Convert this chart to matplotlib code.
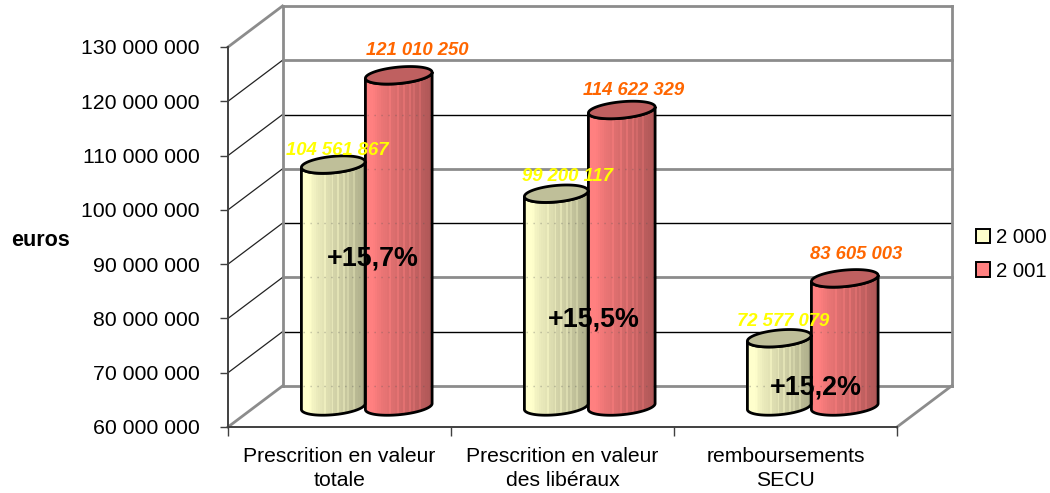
import numpy as np
import matplotlib
matplotlib.use("Agg")
import matplotlib.pyplot as plt
from matplotlib.patches import Patch, Polygon
from matplotlib.colors import LinearSegmentedColormap

plt.rcParams['font.family'] = ['Liberation Sans', 'DejaVu Sans']

categories = ["Prescrition en valeur\ntotale", "Prescrition en valeur\ndes libéraux", "remboursements\nSECU"]
series_names = ["2 000", "2 001"]
values_2000 = [104561867, 99200117, 72577079]
values_2001 = [121010250, 114622329, 83605003]
labels_2000 = ["104 561 867", "99 200 117", "72 577 079"]
labels_2001 = ["121 010 250", "114 622 329", "83 605 003"]
growth = ["+15,7%", "+15,5%", "+15,2%"]
y_ticks = [60000000, 70000000, 80000000, 90000000, 100000000, 110000000, 120000000, 130000000]
y_labels = ["60 000 000", "70 000 000", "80 000 000", "90 000 000", "100 000 000",
            "110 000 000", "120 000 000", "130 000 000"]
# shade across the cylinder, left to right, with the light streaks of the original
shade = [0.96, 1.0, 1.0, 1.0, 0.99, 0.97, 0.95, 0.94, 0.92, 0.91, 0.90, 0.89, 0.93, 0.87, 0.86, 0.85, 0.90,
         0.83, 0.82, 0.89, 0.81, 0.80, 0.86, 0.78, 0.83, 0.76, 0.75, 0.81, 0.73, 0.72, 0.71, 0.70, 0.68, 0.66]

W, H = 1050, 493
fig = plt.figure(figsize=(W / 100, H / 100), dpi=100)
ax = fig.add_axes([228 / W, (H - 427) / H, 669 / W, 380 / H])
ax.set_xlim(0, 3)
ax.set_ylim(60000000, 130000000)

# data units for one pixel
px_x = 3 / 669
px_y = 70000000 / 380
depth_x = 54.5 * px_x
depth_y = 41 * px_y

GREY = "#8c8c8c"
DARK = "#404040"

# back wall and side wall grid, alternating like the original
for i, v in enumerate(y_ticks):
    thick = i % 2 == 0 or i == 7
    col = GREY if thick else "black"
    lw = 2 if thick else 1
    ax.plot([depth_x, 3 + depth_x], [v + depth_y] * 2, color=col, lw=lw, clip_on=False, zorder=1)
    c2 = GREY if i in (0, 7) else "#222222"
    ax.plot([0, depth_x], [v, v + depth_y], color=c2, lw=2 if i in (0, 7) else 0.9, clip_on=False, zorder=1)
ax.plot([depth_x, depth_x], [60000000 + depth_y, 130000000 + depth_y], color=GREY, lw=2, clip_on=False, zorder=1)
ax.plot([3 + depth_x, 3 + depth_x], [60000000 + depth_y, 130000000 + depth_y], color=GREY, lw=2, clip_on=False, zorder=1)
ax.plot([3, 3 + depth_x], [60000000, 60000000 + depth_y], color=GREY, lw=2, clip_on=False, zorder=1)


def ellipse_pts(cx, cy, t, a):
    # tilted ellipse seen from above
    b, tilt = 8.2, np.radians(-5.5)
    ex = a * np.cos(t) * np.cos(tilt) - b * np.sin(t) * np.sin(tilt)
    ey = a * np.cos(t) * np.sin(tilt) + b * np.sin(t) * np.cos(tilt)
    return cx + ex * px_x, cy - ey * px_y


def cylinder(cx, value, a, base_col, top_col):
    cy_top = value + depth_y / 2
    cy_bot = 60000000 + depth_y / 2
    t = np.linspace(0, np.pi, 60)
    bx, by = ellipse_pts(cx, cy_bot, t, a)
    tx, ty = ellipse_pts(cx, cy_top, np.pi - t, a)
    body = Polygon(np.column_stack([np.r_[bx, tx], np.r_[by, ty]]), closed=True, fc="none",
                   ec="black", lw=2, zorder=3)
    ax.add_patch(body)
    cmap = LinearSegmentedColormap.from_list("c", ["black", base_col])
    im = ax.imshow(np.array([shade]), cmap=cmap, vmin=0, vmax=1, aspect="auto",
                   extent=[cx - (a + 0.5) * px_x, cx + (a + 0.5) * px_x, 60000000, value + depth_y],
                   interpolation="nearest", zorder=2.5)
    im.set_clip_path(body)
    # grid shows faintly through the bar
    for v in y_ticks:
        if v + depth_y < cy_top - 10 * px_y:
            ax.plot([cx - (a - 1.5) * px_x, cx + (a - 1.5) * px_x], [v + depth_y] * 2, color="#555555", lw=1,
                    ls=(0, (1, 4)), alpha=0.35, zorder=2.7)
    lid_x, lid_y = ellipse_pts(cx, cy_top, np.linspace(0, 2 * np.pi, 80), a)
    ax.add_patch(Polygon(np.column_stack([lid_x, lid_y]), closed=True, fc=top_col, ec="black", lw=2, zorder=3))


centers = [0.5 + depth_x / 2 + i for i in range(3)]
half_2000 = 33.5 * px_x
half_2001 = 32 * px_x
# label offsets from the top of each bar, in pixels
off_2000 = [(4, 14), (11, 17), (4, 17)]
off_2001 = [(18, 25), (12, 19), (11, 24)]
for i in range(3):
    cylinder(centers[i] - half_2000, values_2000[i], 32, "#FFFFCC", "#BFBF99")
    cylinder(centers[i] + half_2001, values_2001[i], 33.5, "#FF8080", "#BF6060")
    ax.text(centers[i] - half_2000 + off_2000[i][0] * px_x, values_2000[i] + depth_y / 2 + off_2000[i][1] * px_y,
            labels_2000[i], color="#FFFF00", fontsize=13.3, fontweight="bold", style="italic",
            ha="center", va="center", zorder=5)
    ax.text(centers[i] + half_2001 + off_2001[i][0] * px_x, values_2001[i] + depth_y / 2 + off_2001[i][1] * px_y,
            labels_2001[i], color="#FF6600", fontsize=13.3, fontweight="bold", style="italic",
            ha="center", va="center", zorder=5)

growth_x = [6, 4, 3]
growth_y = [91070000, 79870000, 67270000]
for i in range(3):
    ax.text(centers[i] + growth_x[i] * px_x, growth_y[i], growth[i], color="black",
            fontsize=19.4, fontweight="bold", ha="center", va="center", zorder=6)

for s in ("top", "right"):
    ax.spines[s].set_visible(False)
for s in ("left", "bottom"):
    ax.spines[s].set_linewidth(1.4)
    ax.spines[s].set_color(DARK)
ax.patch.set_visible(False)
ax.set_yticks(y_ticks)
ax.set_yticklabels(y_labels, fontsize=15.3, va="center_baseline")
ax.set_xticks([0, 1, 2, 3])
ax.set_xticklabels([])
ax.set_xticks([0.5, 1.5, 2.5], minor=True)
ax.set_xticklabels(categories, minor=True, fontsize=15.2, linespacing=1.31)
ax.tick_params(axis="x", which="major", length=6.5, width=1, color=DARK)
ax.tick_params(axis="x", which="minor", length=0, pad=14.6)
ax.tick_params(axis="y", length=5.8, width=1, color=DARK, pad=14.4)

fig.text(40 / W, 1 - 240 / H, "euros", fontsize=15.5, fontweight="bold", ha="center", va="center")

handles = [Patch(fc="#FFFFCC", ec="black", lw=1.4), Patch(fc="#FF8080", ec="black", lw=1.4)]
fig.legend(handles, series_names, loc="center left", bbox_to_anchor=(976 / W, 1 - 254.5 / H), frameon=False,
           fontsize=14.7, handlelength=0.68, handleheight=0.68, handletextpad=0.3, labelspacing=0.7,
           borderpad=0, borderaxespad=0)

fig.savefig("out.png", dpi=100)
